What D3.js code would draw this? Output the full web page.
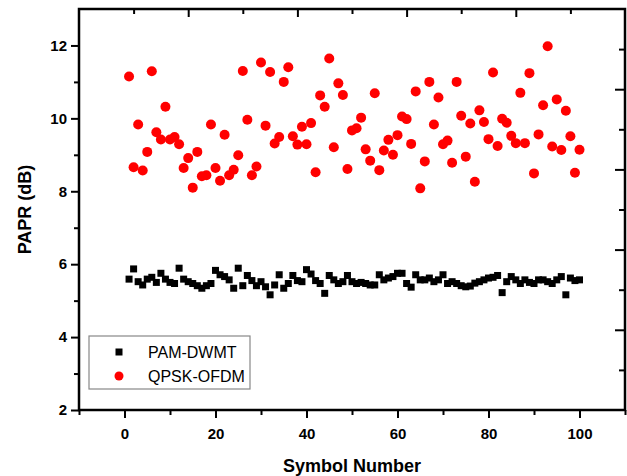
<!DOCTYPE html>
<html>
<head>
<meta charset="utf-8">
<script src="https://cdn.jsdelivr.net/npm/d3@7"></script>
<style>
  body { margin: 0; background: #ffffff; }
  text { font-family: Arial, "Liberation Sans", sans-serif; }
</style>
</head>
<body>
<div id="chart"></div>
<script>
// symbol index 1..100
const symbols = d3.range(1, 101)

// PAPR of PAM-DWMT (black squares), dB
const pamDwmt = [
  5.59, 5.87, 5.52, 5.43, 5.59, 5.64, 5.50, 5.75, 5.59, 5.50,
  5.47, 5.89, 5.59, 5.52, 5.47, 5.41, 5.34, 5.41, 5.47, 5.83,
  5.71, 5.66, 5.57, 5.34, 5.89, 5.41, 5.69, 5.55, 5.41, 5.52,
  5.38, 5.16, 5.43, 5.71, 5.34, 5.47, 5.69, 5.55, 5.52, 5.85,
  5.73, 5.55, 5.47, 5.20, 5.69, 5.57, 5.47, 5.52, 5.69, 5.52,
  5.47, 5.50, 5.47, 5.43, 5.43, 5.71, 5.57, 5.62, 5.66, 5.75,
  5.75, 5.47, 5.37, 5.71, 5.57, 5.57, 5.62, 5.52, 5.57, 5.71,
  5.47, 5.52, 5.47, 5.41, 5.38, 5.40, 5.48, 5.52, 5.57, 5.62,
  5.64, 5.69, 5.22, 5.52, 5.66, 5.57, 5.47, 5.57, 5.50, 5.47,
  5.57, 5.57, 5.52, 5.47, 5.57, 5.66, 5.16, 5.62, 5.55, 5.57
]

// PAPR of QPSK-OFDM (red circles), dB
const qpskOfdm = [
  11.15, 8.66, 9.83, 8.57, 9.08, 11.29, 9.62, 9.42, 10.32, 9.42,
  9.49, 9.29, 8.64, 8.91, 8.10, 9.08, 8.41, 8.44, 9.83, 8.64,
  8.29, 9.55, 8.44, 8.59, 8.99, 11.30, 9.96, 8.44, 8.68, 11.53,
  9.80, 11.27, 9.31, 9.49, 11.00, 11.40, 9.51, 9.28, 9.77, 9.29,
  9.87, 8.52, 10.63, 10.32, 11.64, 9.21, 10.96, 10.64, 8.61, 9.67,
  9.73, 10.02, 9.15, 8.84, 10.69, 8.58, 9.12, 9.41, 9.00, 9.54,
  10.05, 9.98, 9.30, 10.74, 8.08, 8.82, 11.00, 9.83, 10.57, 9.29,
  9.39, 8.78, 11.00, 10.07, 8.95, 9.86, 8.26, 10.22, 9.90, 9.43,
  11.26, 9.24, 9.99, 9.88, 9.52, 9.32, 10.70, 9.32, 11.24, 8.49,
  9.56, 10.36, 11.98, 9.23, 10.52, 9.13, 10.21, 9.51, 8.51, 9.14
]

const xTickLabels = [0, 20, 40, 60, 80, 100]
const yTickLabels = [2, 4, 6, 8, 10, 12]
const seriesNames = ["PAM-DWMT", "QPSK-OFDM"]

const width = 627
const height = 476
const margin = {top: 9, right: 2, bottom: 66, left: 79}

const x = d3.scaleLinear().domain([-10, 110]).range([margin.left, width - margin.right])
const y = d3.scaleLinear().domain([2, 13]).range([height - margin.bottom, margin.top])
// the top and right frame carry their own plain tick rulers
const xTop = d3.scaleLinear().domain([0, 10]).range([margin.left, width - margin.right])
const yRight = d3.scaleLinear().domain([0, 10]).range([height - margin.bottom, margin.top])

const svg = d3.select("#chart").append("svg")
  .attr("width", width)
  .attr("height", height)

svg.append("rect")
  .attr("width", width).attr("height", height).attr("fill", "#ffffff")

const boldFont = g => g.selectAll("text")
  .attr("font-size", 15).attr("font-weight", "bold").attr("fill", "#000")

function styleAxis(g) {
  g.select(".domain").remove()
  g.selectAll("line").attr("stroke", "#000").attr("stroke-width", 2)
}

//// bottom axis: minor then major ticks
svg.append("g")
  .attr("transform", `translate(0,${y(2)})`)
  .call(d3.axisBottom(x).tickValues(d3.range(-10, 111, 10).filter(v => v % 20 != 0)).tickSize(5).tickFormat(""))
  .call(styleAxis)
svg.append("g")
  .attr("transform", `translate(0,${y(2)})`)
  .call(d3.axisBottom(x).tickValues(xTickLabels).tickSize(8).tickPadding(10))
  .call(styleAxis)
  .call(boldFont)

//// left axis
svg.append("g")
  .attr("transform", `translate(${x(-10)},0)`)
  .call(d3.axisLeft(y).tickValues([3, 5, 7, 9, 11]).tickSize(5).tickFormat(""))
  .call(styleAxis)
svg.append("g")
  .attr("transform", `translate(${x(-10)},0)`)
  .call(d3.axisLeft(y).tickValues(yTickLabels).tickSize(8).tickPadding(4))
  .call(styleAxis)
  .call(boldFont)

//// top and right rulers, ticks pointing inside
svg.append("g")
  .attr("transform", `translate(0,${margin.top})`)
  .call(d3.axisBottom(xTop).tickValues(d3.range(1, 10, 2)).tickSize(5).tickFormat(""))
  .call(styleAxis)
svg.append("g")
  .attr("transform", `translate(0,${margin.top})`)
  .call(d3.axisBottom(xTop).tickValues(d3.range(2, 10, 2)).tickSize(8).tickFormat(""))
  .call(styleAxis)
svg.append("g")
  .attr("transform", `translate(${width - margin.right},0)`)
  .call(d3.axisLeft(yRight).tickValues(d3.range(1, 10, 2)).tickSize(6).tickFormat(""))
  .call(styleAxis)
svg.append("g")
  .attr("transform", `translate(${width - margin.right},0)`)
  .call(d3.axisLeft(yRight).tickValues(d3.range(2, 10, 2)).tickSize(10).tickFormat(""))
  .call(styleAxis)

// frame
svg.append("rect")
  .attr("x", x(-10)).attr("y", y(13))
  .attr("width", x(110) - x(-10)).attr("height", y(2) - y(13))
  .attr("fill", "none").attr("stroke", "#000").attr("stroke-width", 2.5)

//// axis titles
svg.append("text")
  .attr("x", (x(-10) + x(110)) / 2).attr("y", 472)
  .attr("text-anchor", "middle")
  .attr("font-size", 18).attr("font-weight", "bold")
  .text("Symbol Number")
svg.append("text")
  .attr("transform", `translate(31,${(y(2) + y(13)) / 2}) rotate(-90)`)
  .attr("text-anchor", "middle")
  .attr("font-size", 18).attr("font-weight", "bold")
  .text("PAPR (dB)")

//// data marks
const sq = 7
svg.append("g").selectAll("rect")
  .data(symbols)
  .join("rect")
  .attr("x", (d, i) => x(d) - sq / 2)
  .attr("y", (d, i) => y(pamDwmt[i]) - sq / 2)
  .attr("width", sq).attr("height", sq)
  .attr("fill", "#000")

svg.append("g").selectAll("circle")
  .data(symbols)
  .join("circle")
  .attr("cx", d => x(d))
  .attr("cy", (d, i) => y(qpskOfdm[i]))
  .attr("r", 5)
  .attr("fill", "#ff0000")

//// legend
const legend = svg.append("g").attr("transform", "translate(89,336)")
legend.append("rect")
  .attr("width", 161).attr("height", 53)
  .attr("fill", "#fff").attr("stroke", "#888").attr("stroke-width", 1.2)
legend.append("rect")
  .attr("x", 30 - 3.5).attr("y", 16 - 3.5).attr("width", 7).attr("height", 7)
  .attr("fill", "#000")
legend.append("circle")
  .attr("cx", 30).attr("cy", 40).attr("r", 4.5)
  .attr("fill", "#ff0000")
legend.selectAll("text.lbl")
  .data(seriesNames)
  .join("text")
  .attr("class", "lbl")
  .attr("x", 59).attr("y", (d, i) => 16 + i * 24)
  .attr("dy", "0.35em")
  .attr("font-size", 16)
  .text(d => d)
</script>
</body>
</html>
